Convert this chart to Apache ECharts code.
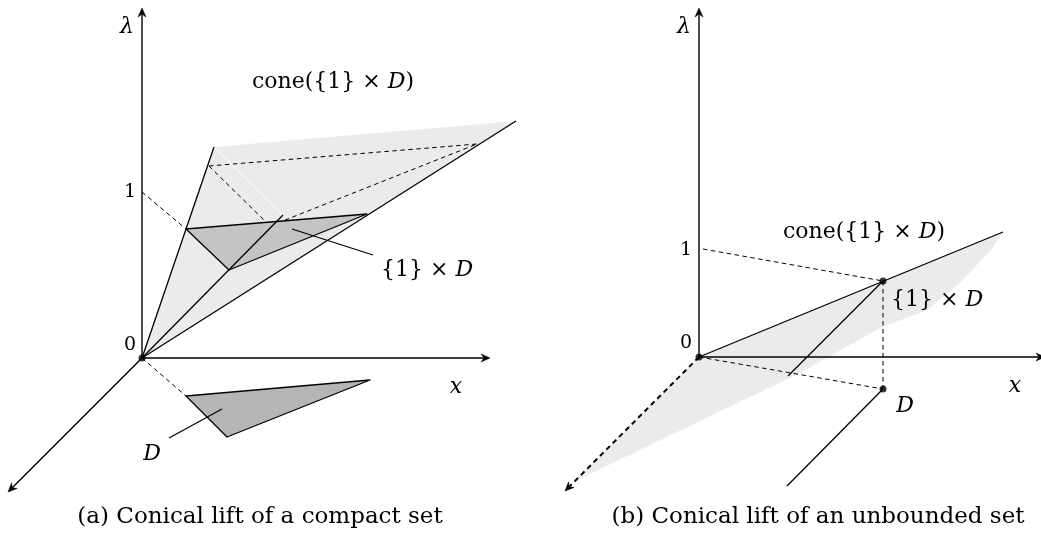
<!DOCTYPE html>
<html><head><meta charset="utf-8">
<script src="https://cdn.jsdelivr.net/npm/echarts@6/dist/echarts.min.js"></script>
<style>html,body{margin:0;padding:0;background:#fff}#c{width:1041px;height:536px}</style>
</head><body><div id="c"></div>
<script>
// ---------- data: drawing-plane points (x right, y down) ----------
// Panel (a): conical lift of a compact set
const coneA    = [[142,358],[214,147],[516,121]];          // light cone region
const liftA    = [[186,229],[367,214],[229,270]];          // {1} x D
const sectionA = [[209,166],[477,144],[270,226]];          // higher section (dashed)
const setDA    = [[186,396],[370,380],[227,437]];          // D
// Panel (b): conical lift of an unbounded set
const coneB    = [[699,357],[1003,232],[993,247],[976,266],[960,283],[927,310],
                  [880,328],[800,373],[700,421],[573,482]];
const liftPointB = [883,281];
const setPointB  = [883,389];

// axes with arrow heads: [x1,y1,x2,y2,dashed]
const axisArrows = [
  [142,358,142,8,0],[142,358,490,358,0],[142,358,8,492,0],
  [699,357,699,8,0],[699,357,1045,357,0],[699,357,565,491,1]
];
// solid segments
const solidSegs = [
  [142,358,214,147],[142,358,283,215],[142,358,516,121],
  [699,357,1003,232],[883,281,788,376],[883,389,787,486],
  [292,229,373,255],[169,438,222,409]
];
// dashed segments (section of the cone)
const dashedSegs = [
  [sectionA[0][0],sectionA[0][1],sectionA[1][0],sectionA[1][1]],
  [sectionA[0][0],sectionA[0][1],sectionA[2][0],sectionA[2][1]],
  [sectionA[2][0],sectionA[2][1],sectionA[1][0],sectionA[1][1]]
];
const dashedGuides = [
  [142,192,186,229],[142,358,186,396],
  [703,249,883,281],[699,357,883,389],[883,281,883,389]
];
const whiteSegs = [[214,147,283,215]];
const dots = [[142,358],[699,357],liftPointB,setPointB];

const labelTexts = [
  '{i|λ}','1','0','{i|x}','cone({1} × {i|D})','{1} × {i|D}','{i|D}',
  '(a) Conical lift of a compact set',
  '{i|λ}','1','0','{i|x}','cone({1} × {i|D})','{1} × {i|D}','{i|D}',
  '(b) Conical lift of an unbounded set'
];
const labelAnchors = [
  [127,27],[130,192],[130,345],[456,387],[333,82],[427,270],[152,454],
  [260,517],
  [684,27],[686,250],[686,343],[1015,386],[864,232],[937,300],[905,406],
  [818,517]
];
const labelSizes = [22,19,19,22,22,22,22,23,22,19,19,22,22,22,22,23];

// ---------- rendering ----------
const FONT = '"DejaVu Serif", "Liberation Serif", serif';
const polygons = [coneA, coneB, liftA, setDA];
const polyFill = ['#ebebeb','#ebebeb','#c4c4c4','#b5b5b5'];
const polyStroke = ['none','none','#000','#000'];

function polySeries(idxs, z) {
  return {
    type:'custom', coordinateSystem:'cartesian2d', silent:true, z:z,
    data: idxs.map(i => [polygons[i][0][0], polygons[i][0][1], i]),
    encode:{x:0,y:1},
    renderItem:(params, api) => {
      const i = api.value(2);
      const pts = polygons[i].map(p => api.coord(p));
      return {type:'polygon', shape:{points:pts},
        style:{fill:polyFill[i], stroke:polyStroke[i], lineWidth:1.3, lineJoin:'round'}};
    }
  };
}
function segSeries(rows, style, z) {
  return {
    type:'custom', coordinateSystem:'cartesian2d', silent:true, z:z,
    data: rows, encode:{x:[0,2], y:[1,3]},
    renderItem:(params, api) => {
      const a = api.coord([api.value(0), api.value(1)]);
      const b = api.coord([api.value(2), api.value(3)]);
      return {type:'line', shape:{x1:a[0],y1:a[1],x2:b[0],y2:b[1]},
        style:Object.assign({stroke:'#000', lineWidth:1.3, lineCap:'butt'}, style)};
    }
  };
}
function arrowSeries(rows, z) {
  return {
    type:'custom', coordinateSystem:'cartesian2d', silent:true, z:z,
    data: rows, encode:{x:[0,2], y:[1,3]},
    renderItem:(params, api) => {
      const a = api.coord([api.value(0), api.value(1)]);
      const b = api.coord([api.value(2), api.value(3)]);
      const dashed = api.value(4) === 1;
      const dx=b[0]-a[0], dy=b[1]-a[1], L=Math.hypot(dx,dy), ux=dx/L, uy=dy/L;
      const len=9, hw=4, notch=6;
      const back=[b[0]-ux*len, b[1]-uy*len];
      const left=[back[0]-uy*hw, back[1]+ux*hw], right=[back[0]+uy*hw, back[1]-ux*hw];
      const mid=[b[0]-ux*notch, b[1]-uy*notch];
      return {type:'group', children:[
        {type:'line', shape:{x1:a[0],y1:a[1],x2:mid[0],y2:mid[1]},
          style:{stroke:'#000', lineWidth: dashed?2:1.4, lineDash: dashed?[5,4]:null}},
        {type:'polygon', shape:{points:[b,left,mid,right]}, style:{fill:'#000', stroke:'#000', lineWidth:0.5}}
      ]};
    }
  };
}
const labelSeries = {
  type:'custom', coordinateSystem:'cartesian2d', silent:true, z:20,
  data: labelAnchors.map((p,i) => [p[0], p[1], i]), encode:{x:0,y:1},
  renderItem:(params, api) => {
    const i = api.value(2);
    const p = api.coord([api.value(0), api.value(1)]);
    const fs = labelSizes[i];
    return {type:'text', x:p[0], y:p[1], style:{
      text:labelTexts[i], fill:'#000', align:'center', verticalAlign:'middle',
      fontFamily:FONT, fontSize:fs,
      rich:{i:{fontFamily:FONT, fontSize:fs, fontStyle:'italic', fill:'#000'}}
    }};
  }
};

const chart = echarts.init(document.getElementById('c'), null, {renderer:'canvas'});
chart.setOption({
  animation:false,
  backgroundColor:'#fff',
  grid:{left:0,right:0,top:0,bottom:0},
  xAxis:{type:'value', min:0, max:1041, show:false},
  yAxis:{type:'value', min:0, max:536, inverse:true, show:false},
  series:[
    polySeries([0,1], 1),
    segSeries(whiteSegs, {stroke:'#fff', lineWidth:1}, 2),
    segSeries(dashedSegs, {lineWidth:1, lineDash:[4.5,3.5]}, 3),
    polySeries([2,3], 4),
    segSeries(solidSegs, {lineWidth:1.3}, 5),
    segSeries(dashedGuides, {lineWidth:1, lineDash:[4.5,3.5]}, 6),
    arrowSeries(axisArrows, 7),
    {type:'scatter', data:dots, symbolSize:7, itemStyle:{color:'#000'}, silent:true, z:8},
    labelSeries
  ]
});
</script></body></html>
